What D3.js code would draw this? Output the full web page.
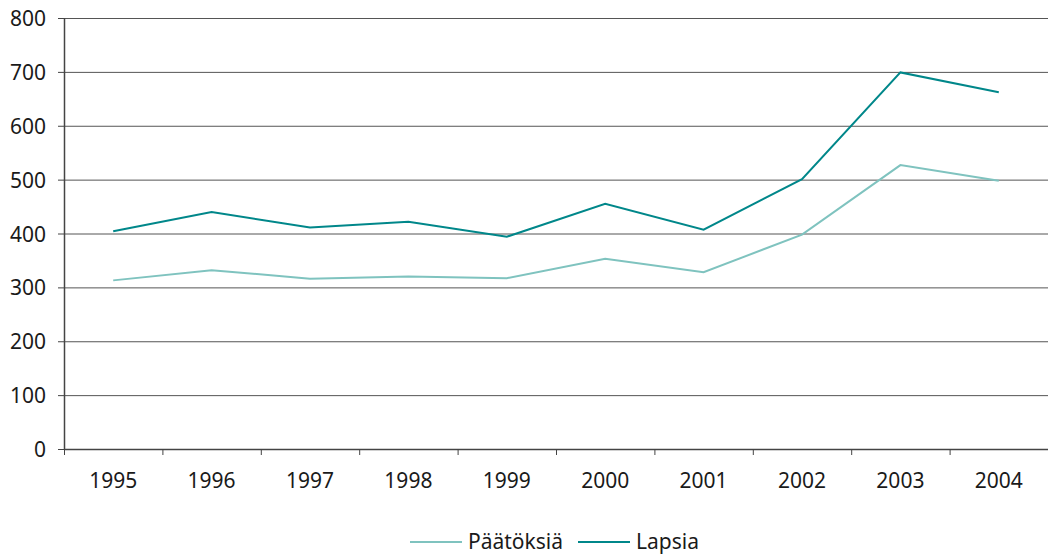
<!DOCTYPE html>
<html>
<head>
<meta charset="utf-8">
<script src="https://cdn.jsdelivr.net/npm/d3@7"></script>
<style>
  body { margin: 0; background: #fff; }
  svg text { font-family: "Noto Sans", "Open Sans", sans-serif; fill: #1a1a1a; }
</style>
</head>
<body>
<div id="chart"></div>
<script>
// data
var years = ["1995", "1996", "1997", "1998", "1999", "2000", "2001", "2002", "2003", "2004"];
var paatoksia = [313, 332, 316, 320, 317, 353, 328, 398, 527, 498];
var lapsia = [404, 440, 411, 422, 394, 455, 407, 501, 699, 662];
var yTicks = [0, 100, 200, 300, 400, 500, 600, 700, 800];

var seriesNames = ["Päätöksiä", "Lapsia"];
var seriesColors = ["#7fc3bf", "#00878a"];

function drawChart() {
    var margin = { top: 18, right: 0, bottom: 105, left: 64 };
    var width = 1048 - margin.left - margin.right;
    var height = 554 - margin.top - margin.bottom;

    var svg = d3.select("#chart")
        .append("svg")
        .attr("width", 1048)
        .attr("height", 554);

    var g = svg.append("g")
        .attr("transform", "translate(" + margin.left + "," + margin.top + ")");

    var x = d3.scaleBand()
        .domain(years)
        .range([0, width]);

    var y = d3.scaleLinear()
        .domain([0, 800])
        .range([height, 0]);

    // gridlines
    g.selectAll(".grid")
        .data(yTicks.filter(d => d > 0))
        .enter()
        .append("line")
        .attr("x1", 0)
        .attr("x2", width)
        .attr("y1", d => y(d) + 0.5)
        .attr("y2", d => y(d) + 0.5)
        .attr("stroke", "#555")
        .attr("stroke-width", 1);

    // y axis
    var yAxis = g.append("g")
        .call(d3.axisLeft(y).tickValues(yTicks).tickSize(6).tickPadding(12).tickFormat(d3.format("d")));
    yAxis.select(".domain").remove();
    yAxis.selectAll(".tick line").attr("stroke", "#444");
    yAxis.selectAll("text").style("font-size", "21px").attr("fill", "#1a1a1a").attr("dy", "0.36em");
    g.append("line")
        .attr("x1", 0.5).attr("x2", 0.5)
        .attr("y1", 0).attr("y2", height)
        .attr("stroke", "#444").attr("stroke-width", 1.5);

    // x axis ticks between categories
    var xg = g.append("g").attr("transform", "translate(0," + height + ")");
    xg.append("line")
        .attr("x1", 0).attr("x2", width)
        .attr("y1", 0.5).attr("y2", 0.5)
        .attr("stroke", "#444").attr("stroke-width", 1.5);
    xg.selectAll(".xtick")
        .data(years)
        .enter()
        .append("line")
        .attr("x1", d => x(d) + 0.5)
        .attr("x2", d => x(d) + 0.5)
        .attr("y1", 0)
        .attr("y2", 6)
        .attr("stroke", "#444");
    xg.selectAll(".xlabel")
        .data(years)
        .enter()
        .append("text")
        .attr("x", d => x(d) + x.bandwidth() / 2)
        .attr("y", 39)
        .attr("text-anchor", "middle")
        .style("font-size", "21px")
        .text(d => d);

    // lines
    var line = d3.line()
        .x((d, i) => x(years[i]) + x.bandwidth() / 2)
        .y(d => y(d));

    [paatoksia, lapsia].forEach(function (vals, k) {
        g.append("path")
            .datum(vals)
            .attr("fill", "none")
            .attr("stroke", seriesColors[k])
            .attr("stroke-width", 2)
            .attr("d", line);
    });

    // legend
    var legend = svg.append("g").attr("transform", "translate(0,542)");
    var lx = [410, 578];
    seriesNames.forEach(function (name, k) {
        legend.append("line")
            .attr("x1", lx[k]).attr("x2", lx[k] + 52)
            .attr("y1", 0).attr("y2", 0)
            .attr("stroke", seriesColors[k])
            .attr("stroke-width", 2);
        legend.append("text")
            .attr("x", lx[k] + 58)
            .attr("y", 7)
            .style("font-size", "21px")
            .text(name);
    });
}

drawChart();
</script>
</body>
</html>
